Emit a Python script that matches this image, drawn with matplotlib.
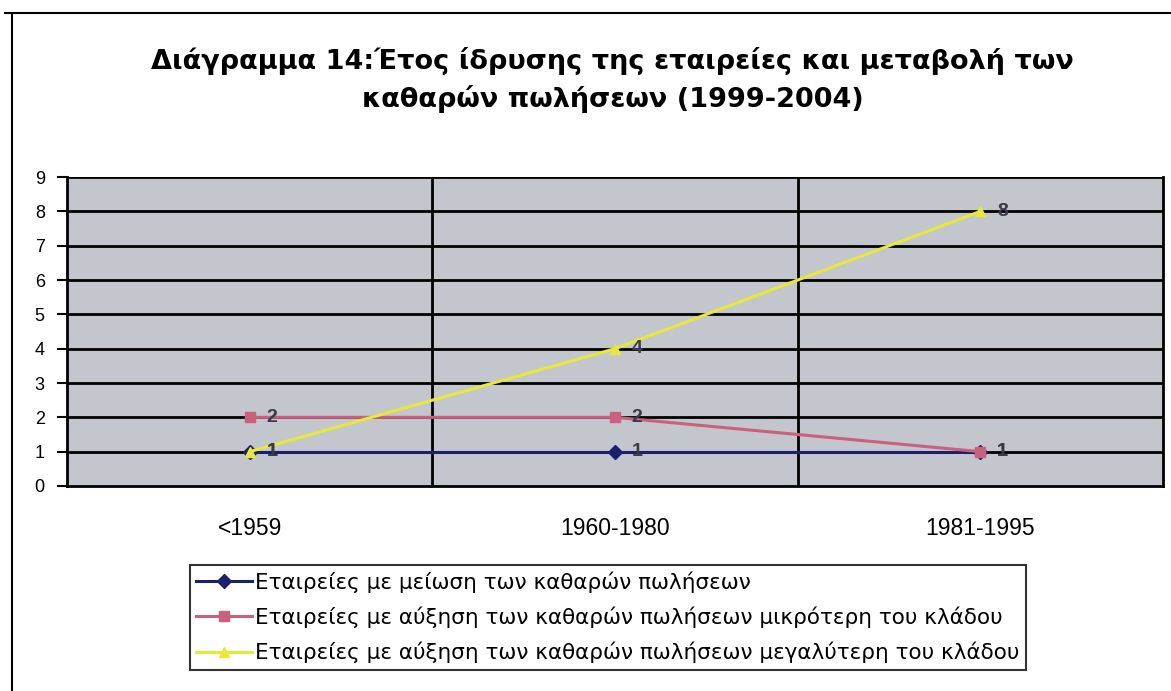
"""
Διάγραμμα 14: έτος ίδρυσης και μεταβολή καθαρών πωλήσεων.
Recreated as a line chart in the old Excel style.
"""
import matplotlib
matplotlib.use("Agg")
import matplotlib.pyplot as plt
from matplotlib.lines import Line2D

plt.rcParams["font.family"] = ["Liberation Sans", "DejaVu Sans"]

TITLE = "Διάγραμμα 14:Έτος ίδρυσης της εταιρείες και μεταβολή των\nκαθαρών πωλήσεων (1999-2004)"

categories = ["<1959", "1960-1980", "1981-1995"]
series_names = [
    "Εταιρείες με μείωση των καθαρών πωλήσεων",
    "Εταιρείες με αύξηση των καθαρών πωλήσεων μικρότερη του κλάδου",
    "Εταιρείες με αύξηση των καθαρών πωλήσεων μεγαλύτερη του κλάδου",
]
decrease = [1, 1, 1]
smaller_growth = [2, 2, 1]
larger_growth = [1, 4, 8]
y_ticks = list(range(0, 10))

colors = ["#1c1f6e", "#c8607e", "#e8e83a"]
markers = ["D", "s", "^"]
values = [decrease, smaller_growth, larger_growth]

fig = plt.figure(figsize=(11.71, 6.91), dpi=100)
ax = fig.add_axes([0.0572, 0.2967, 0.936, 0.447])
ax.set_facecolor("#c3c6cc")

x = list(range(len(categories)))
ax.set_xlim(-0.5, len(categories) - 0.5)
ax.set_ylim(0, 9)

# black gridlines and category separators
for yv in y_ticks[1:]:
    ax.axhline(yv, color="black", lw=2.0, zorder=1)
for xv in [0.5, 1.5]:
    ax.axvline(xv, color="black", lw=2.0, zorder=1)

for vals, c, m in zip(values, colors, markers):
    ax.plot(x, vals, color=c, lw=2.2, marker=m, markersize=7,
            markeredgecolor=c, zorder=3)

# data labels (drawn right of each point)
for vals, c in zip(values, colors):
    for xi, v in zip(x, vals):
        ax.annotate(str(v), (xi, v), xytext=(12, 0), textcoords="offset points",
                    ha="left", va="center", fontsize=14, fontweight="bold",
                    color="#3a3a48", zorder=4)

ax.set_xticks(x)
ax.set_xticklabels(categories, fontsize=16.5)
ax.set_yticks(y_ticks)
ax.tick_params(axis="y", labelsize=13, length=7, width=1.5, direction="out", pad=9)
ax.tick_params(axis="x", length=0, pad=22)
for side in ["left", "bottom", "right"]:
    ax.spines[side].set_linewidth(2)
ax.spines["top"].set_visible(False)

fig.text(0.523, 0.884, TITLE, ha="center", va="center", fontsize=19.5,
         fontweight="bold", linespacing=1.45, family="DejaVu Sans")

# outer chart frame (left and top edge)
fig.add_artist(Line2D([0.004, 1.0], [0.981, 0.981], color="black", lw=1.5))
fig.add_artist(Line2D([0.010, 0.010], [0.0, 0.981], color="black", lw=1.5))

handles = [Line2D([0], [0], color=c, lw=2.2, marker=m, markersize=7)
           for c, m in zip(colors, markers)]
leg = fig.legend(handles, series_names, loc="upper left",
                 bbox_to_anchor=(0.162, 0.183), frameon=True,
                 prop={"family": "DejaVu Sans", "size": 15.5},
                 fancybox=False, edgecolor="black", handlelength=2.6,
                 handletextpad=0.15, labelspacing=0.65, borderpad=0.3,
                 borderaxespad=0)
leg.get_frame().set_linewidth(1.5)

fig.savefig("out.png", dpi=100)
